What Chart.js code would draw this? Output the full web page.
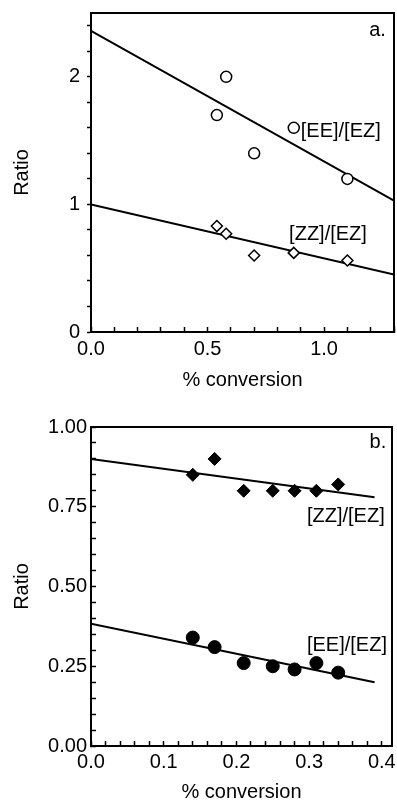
<!DOCTYPE html>
<html>
<head>
<meta charset="utf-8">
<script src="https://cdn.jsdelivr.net/npm/chart.js@4.4.1/dist/chart.umd.min.js"></script>
<style>
  html, body { margin: 0; padding: 0; background: #fff; }
  .panel { position: absolute; left: 0; width: 397px; }
  #wrapA { top: 0; height: 400px; }
  #wrapB { top: 400px; height: 402px; }
</style>
</head>
<body>
<div class="panel" id="wrapA"><canvas id="chartA"></canvas></div>
<div class="panel" id="wrapB"><canvas id="chartB"></canvas></div>
<script>
// panel a
const convA = [0.54, 0.58, 0.70, 0.87, 1.10];
const eeA = [1.70, 2.00, 1.40, 1.60, 1.20];
const zzA = [0.83, 0.77, 0.60, 0.62, 0.56];
const fitXA = [0, 1.3];
const fitEeA = [2.36, 1.03];
const fitZzA = [1.00, 0.45];
const xLabelsA = [0, 0.5, 1.0];
const yLabelsA = [0, 1, 2];

// panel b
const convB = [0.14, 0.17, 0.21, 0.25, 0.28, 0.31, 0.34];
const zzB = [0.85, 0.90, 0.80, 0.80, 0.80, 0.80, 0.82];
const eeB = [0.34, 0.31, 0.26, 0.25, 0.24, 0.26, 0.23];
const fitXB = [0, 0.39];
const fitZzB = [0.90, 0.78];
const fitEeB = [0.383, 0.20];
const xLabelsB = [0, 0.1, 0.2, 0.3, 0.4];
const yLabelsB = [0, 0.25, 0.5, 0.75, 1.0];

const FONT = "'Liberation Sans', Arial, sans-serif";

function pts(xs, ys) {
  return xs.map((x, i) => ({ x: x, y: ys[i] }));
}

// only label the major values, the rest just get a tick mark ('' keeps the mark, null would drop it)
function labeler(list, digits) {
  return function(v) {
    for (const m of list) {
      if (Math.abs(v - m) < 1e-6) return digits === 0 ? String(m) : m.toFixed(digits);
    }
    return '';
  };
}

// closed box around the plot area + the text notes
function extras(notes) {
  return {
    id: 'extras',
    afterDraw(chart) {
      const c = chart.ctx, a = chart.chartArea;
      c.save();
      c.strokeStyle = '#000';
      c.lineWidth = 2;
      c.strokeRect(a.left, a.top, a.right - a.left, a.bottom - a.top);
      c.fillStyle = '#000';
      c.font = '20px ' + FONT;
      c.textBaseline = 'middle';
      notes.forEach(n => {
        c.textAlign = n.align || 'left';
        c.fillText(n.text, chart.scales.x.getPixelForValue(n.x), chart.scales.y.getPixelForValue(n.y));
      });
      c.restore();
    }
  };
}

function makeChart(id, o) {
  return new Chart(document.getElementById(id), {
    type: 'scatter',
    data: { datasets: o.datasets },
    options: {
      responsive: true,
      maintainAspectRatio: false,
      animation: false,
      layout: { padding: o.padding, autoPadding: false },
      plugins: { legend: { display: false }, tooltip: { enabled: false } },
      scales: {
        x: {
          type: 'linear',
          min: 0, max: o.xMax,
          afterFit: s => { s.height = o.xHeight; s.paddingLeft = 0; s.paddingRight = 0; },
          afterBuildTicks: s => { s.ticks = o.xTicks.map(v => ({ value: v })); },
          border: { color: '#000', width: 2 },
          grid: { drawOnChartArea: false, color: '#000', tickLength: -5, tickWidth: 1.5 },
          ticks: { color: '#000', padding: o.xPad, maxRotation: 0, autoSkip: false,
                   font: { family: FONT, size: 20 }, callback: labeler(o.xLabels, 1) },
          title: { display: true, text: '% conversion', color: '#000',
                   font: { family: FONT, size: 20, lineHeight: 1 }, padding: { bottom: o.xTitlePad } }
        },
        y: {
          min: 0, max: o.yMax,
          afterFit: s => { s.width = 91; s.paddingTop = 0; s.paddingBottom = 0; },
          afterBuildTicks: s => { s.ticks = o.yTicks.map(v => ({ value: v })); },
          border: { color: '#000', width: 2 },
          grid: { drawOnChartArea: false, color: '#000', tickLength: o.yTick, tickWidth: 1.5 },
          ticks: { color: '#000', padding: o.yPad, autoSkip: false,
                   font: { family: FONT, size: 20 }, callback: labeler(o.yLabels, o.yDigits) },
          title: { display: true, text: 'Ratio', color: '#000',
                   font: { family: FONT, size: 20, lineHeight: 1 }, padding: { top: 12 } }
        }
      }
    },
    plugins: [extras(o.notes)]
  });
}

function steps(max, step) {
  const out = [];
  for (let i = 0; i * step <= max + 1e-9; i++) out.push(Math.round(i * step * 1000) / 1000);
  return out;
}

const lineStyle = { showLine: true, borderColor: '#000', borderWidth: 2, pointRadius: 0 };

makeChart('chartA', {
  datasets: [
    { data: pts(convA, eeA), pointStyle: 'circle', pointRadius: 5.5, backgroundColor: '#fff', borderColor: '#000', borderWidth: 1.5 },
    { data: pts(convA, zzA), pointStyle: 'rectRot', pointRadius: 5.5, backgroundColor: '#fff', borderColor: '#000', borderWidth: 1.5 },
    Object.assign({ data: pts(fitXA, fitEeA) }, lineStyle),
    Object.assign({ data: pts(fitXA, fitZzA) }, lineStyle)
  ],
  padding: { top: 13, right: 3, left: 0, bottom: 0 },
  xMax: 1.3, xTicks: steps(1.3, 0.1), xLabels: xLabelsA, xHeight: 68, xPad: 10, xTitlePad: 10,
  yMax: 2.5, yTicks: steps(2.5, 0.2), yLabels: yLabelsA, yDigits: 0, yTick: 4, yPad: 7,
  notes: [
    { text: '[EE]/[EZ]', x: 0.90, y: 1.57 },
    { text: '[ZZ]/[EZ]', x: 0.85, y: 0.765 },
    { text: 'a.', x: 1.265, y: 2.36, align: 'right' }
  ]
});

makeChart('chartB', {
  datasets: [
    { data: pts(convB, zzB), pointStyle: 'rectRot', pointRadius: 6.5, backgroundColor: '#000', borderColor: '#000', borderWidth: 1 },
    { data: pts(convB, eeB), pointStyle: 'circle', pointRadius: 6.5, backgroundColor: '#000', borderColor: '#000', borderWidth: 1 },
    Object.assign({ data: pts(fitXB, fitZzB) }, lineStyle),
    Object.assign({ data: pts(fitXB, fitEeB) }, lineStyle)
  ],
  padding: { top: 27, right: 5, left: 0, bottom: 0 },
  xMax: 0.414, xTicks: steps(0.414, 0.02), xLabels: xLabelsB, xHeight: 56, xPad: 9, xTitlePad: 0,
  yMax: 1.0, yTicks: steps(1.0, 0.05), yLabels: yLabelsB, yDigits: 2, yTick: -5, yPad: 9,
  notes: [
    { text: '[ZZ]/[EZ]', x: 0.297, y: 0.718 },
    { text: '[EE]/[EZ]', x: 0.297, y: 0.316 },
    { text: 'b.', x: 0.406, y: 0.951, align: 'right' }
  ]
});
</script>
</body>
</html>
